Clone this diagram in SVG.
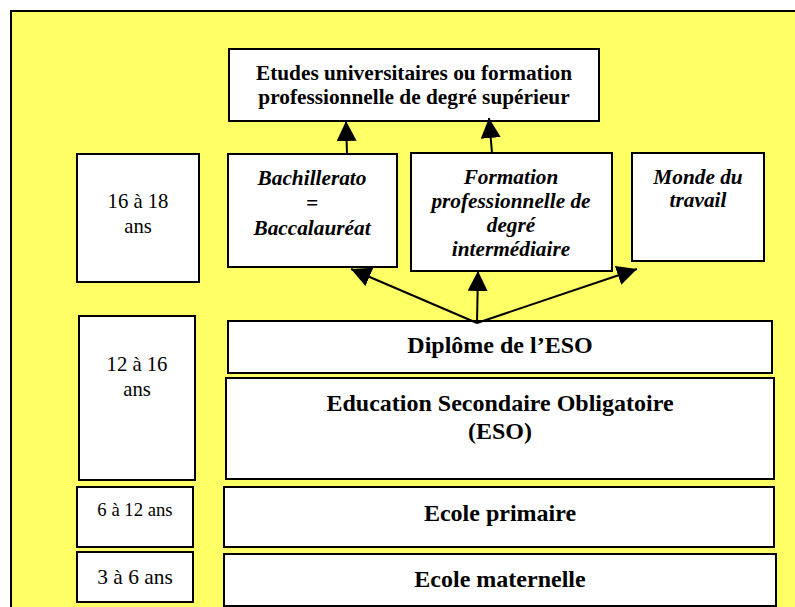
<svg xmlns="http://www.w3.org/2000/svg" width="795" height="607" viewBox="0 0 795 607">
<defs>
<style>
.box{fill:#fff;stroke:#000;stroke-width:2}
.t{font-family:"Liberation Serif","Times New Roman",serif;fill:#000;text-anchor:middle}
.b{font-weight:bold}
.i{font-style:italic;font-weight:bold}
.con{stroke:#000;stroke-width:2;fill:none}
</style>
<marker id="ah" markerUnits="userSpaceOnUse" markerWidth="21" markerHeight="21" refX="20" refY="10" orient="auto">
<path d="M0,0 L20,10 L0,20 z" fill="#000"/>
</marker>
</defs>
<rect x="11" y="11" width="800" height="610" fill="#FFFF66" stroke="#000" stroke-width="2"/>

<g id="etudes">
<rect class="box" x="229" y="49" width="370" height="72"/>
<text class="t b" font-size="21.3" x="414" y="80">Etudes universitaires ou formation</text>
<text class="t b" font-size="21.3" x="414" y="104">professionnelle de degré supérieur</text>
</g>

<g id="age16">
<rect class="box" x="77" y="154" width="122" height="128"/>
<text class="t" font-size="20.7" x="138" y="208">16 à 18</text>
<text class="t" font-size="20.7" x="138" y="233">ans</text>
</g>

<g id="bachillerato">
<rect class="box" x="228" y="154" width="169" height="113"/>
<text class="t i" font-size="21.3" x="312" y="185">Bachillerato</text>
<text class="t i" font-size="21.3" x="312" y="210">=</text>
<text class="t i" font-size="21.3" x="312" y="235">Baccalauréat</text>
</g>

<g id="formation">
<rect class="box" x="411" y="153" width="201" height="118"/>
<text class="t i" font-size="21.3" x="511" y="184">Formation</text>
<text class="t i" font-size="21.3" x="511" y="208">professionnelle de</text>
<text class="t i" font-size="21.3" x="511" y="232">degré</text>
<text class="t i" font-size="21.3" x="511" y="256">intermédiaire</text>
</g>

<g id="monde">
<rect class="box" x="632" y="153" width="132" height="108"/>
<text class="t i" font-size="21.3" x="698" y="184">Monde du</text>
<text class="t i" font-size="21.3" x="698" y="207">travail</text>
</g>

<g id="age12">
<rect class="box" x="79" y="316" width="116" height="164"/>
<text class="t" font-size="20.7" x="137" y="371">12 à 16</text>
<text class="t" font-size="20.7" x="137" y="396">ans</text>
</g>

<g id="diplome">
<rect class="box" x="228" y="321" width="544" height="52"/>
<text class="t b" font-size="24" x="500" y="353">Diplôme de l’ESO</text>
</g>

<g id="eso">
<rect class="box" x="226" y="378" width="548" height="101"/>
<text class="t b" font-size="24" x="500" y="411">Education Secondaire Obligatoire</text>
<text class="t b" font-size="24" x="500" y="439">(ESO)</text>
</g>

<g id="age6">
<rect class="box" x="77" y="487" width="116" height="60"/>
<text class="t" font-size="18.7" x="135" y="516">6 à 12 ans</text>
</g>

<g id="primaire">
<rect class="box" x="224" y="487" width="550" height="60"/>
<text class="t b" font-size="24" x="500" y="521">Ecole primaire</text>
</g>

<g id="age3">
<rect class="box" x="77" y="552" width="116" height="50"/>
<text class="t" font-size="21.4" x="135" y="584">3 à 6 ans</text>
</g>

<g id="maternelle">
<rect class="box" x="224" y="554" width="552" height="52"/>
<text class="t b" font-size="24" x="500" y="587">Ecole maternelle</text>
</g>

<g id="connectors">
<line class="con" x1="347" y1="154" x2="346" y2="121" marker-end="url(#ah)"/>
<line class="con" x1="492" y1="153" x2="489" y2="118" marker-end="url(#ah)"/>
<line class="con" x1="477" y1="323" x2="351" y2="269" marker-end="url(#ah)"/>
<line class="con" x1="477" y1="323" x2="478" y2="271" marker-end="url(#ah)"/>
<line class="con" x1="477" y1="323" x2="637" y2="269" marker-end="url(#ah)"/>
</g>
</svg>
